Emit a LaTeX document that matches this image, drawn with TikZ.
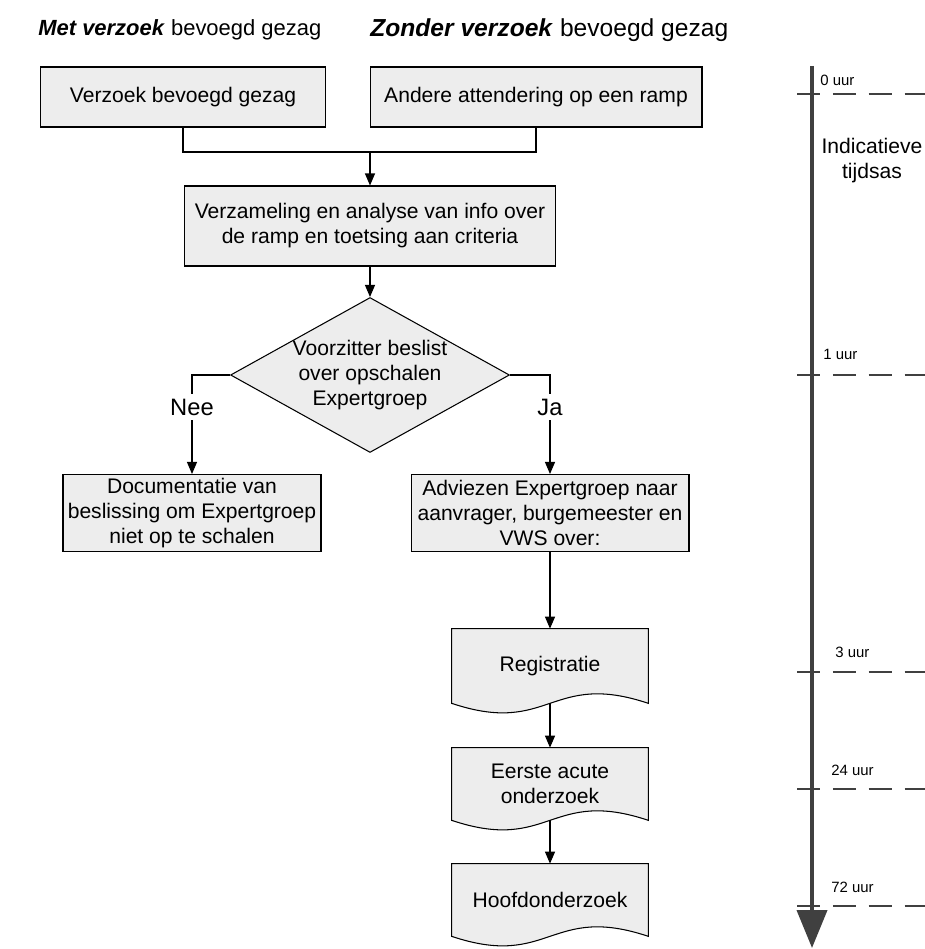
\documentclass[tikz,border=0pt]{standalone}
\usepackage{fontspec}
\setmainfont{Liberation Sans}
\usetikzlibrary{arrows.meta,shapes.geometric,backgrounds}
\definecolor{vlak}{gray}{0.93}
\definecolor{lijn}{gray}{0.25}

\newcommand{\docvorm}[1]{%
  \begin{pgfonlayer}{background}
    \draw[fill=vlak, line width=0.6pt] (#1.north west) -- (#1.north east) -- (#1.south east)
      .. controls ([yshift=0.66cm]#1.south) and ([yshift=-0.66cm]#1.south) .. (#1.south west) -- cycle;
  \end{pgfonlayer}}

\begin{document}
\begin{tikzpicture}[x=0.02cm, y=-0.02cm,
    tekst/.style={font=\fontsize{12}{14.2}\selectfont, align=center},
    kop/.style={font=\fontsize{12.5}{15}\selectfont, inner sep=0pt},
    tak/.style={font=\fontsize{13.5}{16}\selectfont, inner sep=2.5pt},
    klein/.style={font=\fontsize{8.5}{10}\selectfont, inner sep=0pt},
    stap/.style={tekst, draw, fill=vlak, line width=0.6pt, inner sep=0pt},
    keuze/.style={stap, diamond, aspect=1.8, inner sep=-3pt, minimum width=5.58cm, minimum height=3.1cm},
    doc/.style={tekst, inner sep=0pt, minimum width=3.92cm},
    pijl/.style={-{Triangle[length=2.4mm, width=2mm]}, line width=0.6pt},
    tijdas/.style={-{Triangle[length=0.76cm, width=0.6cm]}, draw=lijn, line width=2.3pt},
    markering/.style={draw=lijn, line width=0.6pt, dash pattern=on 13pt off 7.4pt}]
  \useasboundingbox (0,0) rectangle (925,949);

  \node[kop, anchor=west] (metkop) at (38,30) {\textbf{\textit{Met verzoek}} bevoegd gezag};
  \node[kop, font=\fontsize{14}{16}\selectfont, anchor=west] (zonderkop) at (370,30) {\textbf{\textit{Zonder verzoek}} bevoegd gezag};

  \node[stap, minimum width=5.7cm, minimum height=1.2cm] (verzoek) at (183,97) {Verzoek bevoegd gezag};
  \node[stap, minimum width=6.64cm, minimum height=1.2cm] (andere) at (536,97) {Andere attendering op een ramp};
  \node[stap, minimum width=7.44cm, minimum height=1.6cm] (verzameling) at (370,226)
    {Verzameling en analyse van info over\\de ramp en toetsing aan criteria};
  \node[keuze] (voorzitter) at (370,375) {Voorzitter beslist\\over opschalen\\Expertgroep};
  \node[stap, minimum width=5.16cm, minimum height=1.54cm] (documentatie) at (192,513)
    {Documentatie van\\beslissing om Expertgroep\\niet op te schalen};
  \node[stap, minimum width=5.56cm, minimum height=1.54cm] (adviezen) at (550,513)
    {Adviezen Expertgroep naar\\aanvrager, burgemeester en\\VWS over:};
  \node[doc, minimum height=1.48cm] (registratie) at (550,666) {Registratie};
  \node[doc, minimum height=1.44cm] (eerste) at (550,784) {Eerste acute\\onderzoek};
  \node[doc, minimum height=1.44cm] (hoofd) at (550,900) {Hoofdonderzoek};
  \docvorm{registratie}
  \docvorm{eerste}
  \docvorm{hoofd}

  \node[tak] (nee) at (192,407) {Nee};
  \node[tak] (ja) at (550,407) {Ja};
  \coordinate (samen) at (370,152);

  \begin{scope}[line width=0.6pt]
    \draw (verzoek.south) |- (samen) -| (andere.south);
    \draw[pijl] (samen) -- (verzameling.north);
    \draw[pijl] (verzameling.south) -- (voorzitter.north);
    \draw (voorzitter.west) -| (nee.north);
    \draw[pijl] (nee.south) -- (documentatie.north);
    \draw (voorzitter.east) -| (ja.north);
    \draw[pijl] (ja.south) -- (adviezen.north);
    \draw[pijl] (adviezen.south) -- (registratie.north);
    \draw[pijl] (registratie.south) -- (eerste.north);
    \draw[pijl] (eerste.south) -- (hoofd.north);
  \end{scope}

  % tijdsas
  \foreach \y/\uur/\lx/\ly in {94/0/820/80, 375/1/823/354, 672/3/835/652, 789/24/831/770, 906/72/831/887} {
    \coordinate (m\uur) at (797,\y);
    \coordinate (e\uur) at (925,\y);
    \draw[markering] (m\uur) -- (e\uur);
    \node[klein, anchor=west] (l\uur) at (\lx,\ly) {\uur\ uur};
  }
  \coordinate (asboven) at (812,66);
  \coordinate (asonder) at (812,948);
  \draw[tijdas] (asboven) -- (asonder);
  \node[tekst] (tijdsas) at (872,161) {Indicatieve\\tijdsas};
\end{tikzpicture}
\end{document}
